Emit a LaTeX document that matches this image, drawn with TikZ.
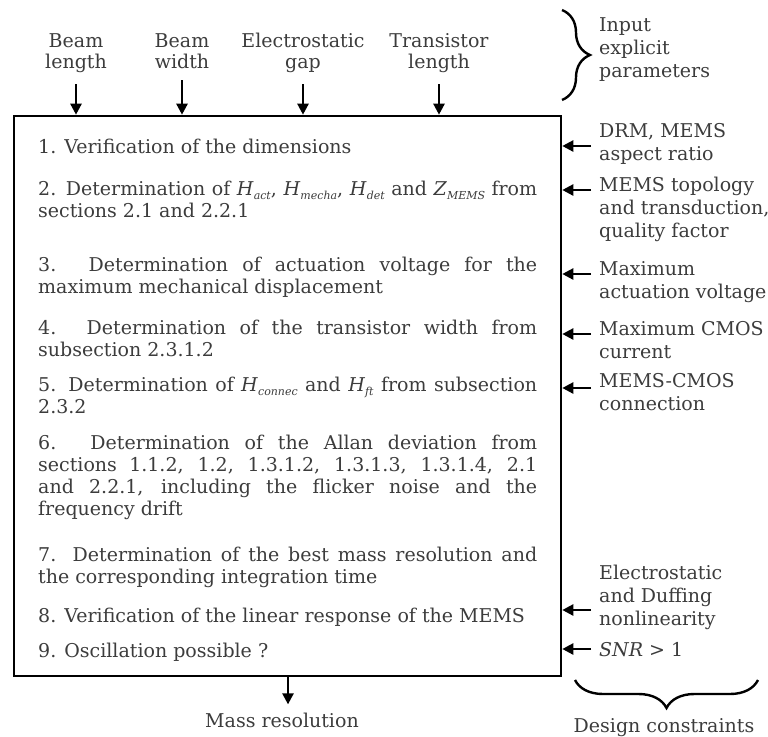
\documentclass[tikz,border=0pt]{standalone}
\usepackage{fontspec}
\setmainfont{DejaVu Serif}
\usetikzlibrary{arrows.meta,decorations.pathreplacing,positioning}
\definecolor{ink}{HTML}{3C3C3C}
\hyphenpenalty=10000
\exhyphenpenalty=10000

\tikzset{
  arr/.style={line width=2.4pt,-{Triangle[length=11pt,width=11pt]}},
  mainbox/.style={draw,line width=2.6pt,minimum width=547pt,minimum height=560pt,inner sep=0pt},
  inlbl/.style={font=\fontsize{19}{21}\selectfont,text=ink,align=center,inner sep=0pt,anchor=base},
  stepbox/.style={text width=499pt,align=justify,font=\fontsize{19}{22}\selectfont,text=ink,inner sep=0pt,anchor=base west},
  cstr/.style={font=\fontsize{19}{23}\selectfont,text=ink,align=left,inner sep=0pt,anchor=base west},
  brace/.style={decorate,decoration={brace,amplitude=28pt},line width=2.4pt},
}
\newcommand{\qty}[2]{\textit{#1}\raisebox{-4pt}{\fontsize{11}{11}\selectfont\itshape #2}}

\begin{document}
\begin{tikzpicture}[x=1pt,y=-1pt]
  \useasboundingbox (0,0) rectangle (768,736);
  % main box
  \node[mainbox] (flow) at (287.5,396) {};
  % input parameters (base = last line)
  \node[inlbl] (blen) at (76,68) {Beam\\length};
  \node[inlbl] (bwid) at (182,68) {Beam\\width};
  \node[inlbl] (egap) at (303,68) {Electrostatic\\gap};
  \node[inlbl] (tlen) at (439,68) {Transistor\\length};
  \foreach \p in {blen,bwid,egap,tlen}
    \draw[arr] ([yshift=-12pt]\p.south) -- (\p.south |- flow.north);
  \draw[brace] (562,10) -- (562,100);
  \node[cstr] (inp) at (599,77) {Input\\explicit\\parameters};
  % steps
  \node[stepbox] (s1) at (38,153) {1. Verification of the dimensions};
  \node[stepbox] (s2) at (38,195) {2. Determination of \qty{H}{act}, \qty{H}{mecha}, \qty{H}{det} and \qty{Z}{MEMS} from\linebreak sections 2.1 and 2.2.1};
  \node[stepbox] (s3) at (38,271) {3. Determination of actuation voltage for the\linebreak maximum mechanical displacement};
  \node[stepbox] (s4) at (38,334) {4. Determination of the transistor width from\linebreak subsection 2.3.1.2};
  \node[stepbox] (s5) at (38,391) {5. Determination of \qty{H}{connec} and \qty{H}{ft} from subsection\linebreak 2.3.2};
  \node[stepbox] (s6) at (38,449) {6. Determination of the Allan deviation from\linebreak sections 1.1.2, 1.2, 1.3.1.2, 1.3.1.3, 1.3.1.4, 2.1\linebreak and 2.2.1, including the flicker noise and the\linebreak frequency drift};
  \node[stepbox] (s7) at (38,561) {7. Determination of the best mass resolution and\linebreak the corresponding integration time};
  \node[stepbox] (s8) at (38,622) {8. Verification of the linear response of the MEMS};
  \node[stepbox] (s9) at (38,657) {9. Oscillation possible ?};
  % design constraints (base = last line)
  \node[cstr] (c1) at (599,160) {DRM, MEMS\\aspect ratio};
  \node[cstr] (c2) at (599,237) {MEMS topology\\and transduction,\\quality factor};
  \node[cstr] (c3) at (599,298) {Maximum\\actuation voltage};
  \node[cstr] (c4) at (599,358) {Maximum CMOS\\current};
  \node[cstr] (c5) at (599,410) {MEMS-CMOS\\connection};
  \node[cstr] (c6) at (599,625) {Electrostatic\\and Duffing\\nonlinearity};
  \node[cstr] (c7) at (599,656) {\textit{SNR} > 1};
  \coordinate (k1) at (591,146);
  \coordinate (k2) at (591,190);
  \coordinate (k3) at (591,274);
  \coordinate (k4) at (591,334);
  \coordinate (k5) at (591,388);
  \coordinate (k6) at (591,610);
  \coordinate (k7) at (591,649);
  \foreach \k in {k1,k2,k3,k4,k5,k6,k7}
    \draw[arr] (\k) -- (\k -| flow.east);
  \draw[brace] (758,680) -- (575,680);
  \node[cstr,anchor=base] (dc) at (664,732) {Design constraints};
  % output
  \node[cstr,anchor=base] (mres) at (282,727) {Mass resolution};
  \draw[arr] ([xshift=6pt]mres.north |- flow.south) -- ([xshift=6pt,yshift=8pt]mres.north);
\end{tikzpicture}
\end{document}
